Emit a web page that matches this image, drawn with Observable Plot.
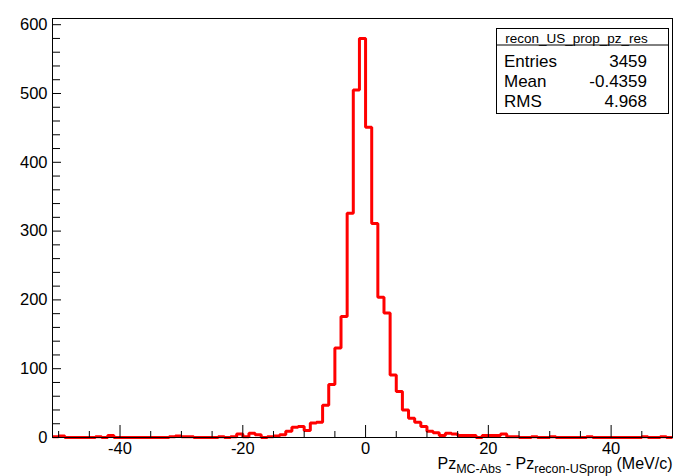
<!DOCTYPE html>
<html>
<head>
<meta charset="utf-8">
<script src="https://cdn.jsdelivr.net/npm/d3@7"></script>
<script src="https://cdn.jsdelivr.net/npm/@observablehq/plot@0.6"></script>
<style>
  html, body { margin: 0; padding: 0; background: #fff; }
  #chart { width: 675px; height: 476px; }
  svg { display: block; }
</style>
</head>
<body>
<div id="chart"></div>
<script>
// recon_US_prop_pz_res : Pz residual histogram, 1 MeV/c bins starting at -51
const histName = "recon_US_prop_pz_res";
const binLow = -51;
const binWidth = 1;
const counts = [
  1, 2, 0, 0, 0, 0, 0, 1, 0, 3,             // -51 .. -42
  0, 0, 0, 0, 0, 0, 0, 0, 0, 1,             // -41 .. -32
  2, 1, 1, 0, 0, 0, 0, 1, 0, 1,             // -31 .. -22
  5, 1, 6, 4, 0, 1, 2, 4, 9, 15,            // -21 .. -12
  16, 10, 21, 22, 47, 77, 130, 176, 326, 505, // -11 .. -2
  580, 451, 311, 204, 181, 91, 67, 40, 28, 22, // -1 .. 8
  16, 9, 7, 3, 6, 5, 3, 3, 3, 0,            // 9 .. 18
  3, 3, 3, 5, 1, 1, 0, 0, 1, 0,             // 19 .. 28
  0, 1, 0, 0, 0, 0, 0, 1, 0, 0,             // 29 .. 38
  0, 0, 0, 0, 0, 0, 1, 0, 0, 1,             // 39 .. 48
  0                                          // 49
];

const xTickLabels = [-40, -20, 0, 20, 40];
const yTickLabels = [0, 100, 200, 300, 400, 500, 600];
const statsLabels = ["Entries", "Mean", "RMS"];
const statsValues = ["3459", "-0.4359", "4.968"];

// Bin edges for the step outline (last bin closed at its upper edge)
const edges = counts.map((c, i) => ({x: binLow + i * binWidth, y: c}));
edges.push({x: binLow + counts.length * binWidth, y: counts[counts.length - 1]});

const W = 675, H = 476;
const mL = 52, mR = 3, mT = 18, mB = 39;
const frameW = W - mL - mR;
const frameH = H - mT - mB;
const font = "'Liberation Sans', Arial, Helvetica, sans-serif";

const xMinor = d3.range(-50, 51, 5).filter(v => v % 20 !== 0);
const yMinor = d3.range(0, 601, 20).filter(v => v % 100 !== 0);

const svg = Plot.plot({
  width: W,
  height: H,
  marginLeft: mL,
  marginRight: mR,
  marginTop: mT,
  marginBottom: mB,
  style: {fontFamily: font, fontSize: "16.5px", color: "#000", background: "#fff"},
  x: {domain: [binLow, binLow + counts.length * binWidth]},
  y: {domain: [0, d3.max(counts) * 1.05]},
  marks: [
    Plot.line(edges, {
      x: "x", y: "y", curve: "step-after",
      stroke: "#ff0000", strokeWidth: 3, strokeLinejoin: "miter", strokeLinecap: "butt"
    }),
    Plot.frame({stroke: "#000", strokeWidth: 1}),
    Plot.tickX(xTickLabels, {x: d => d, stroke: "#000", insetTop: frameH - 12}),
    Plot.tickX(xMinor, {x: d => d, stroke: "#000", insetTop: frameH - 6}),
    Plot.tickY(yTickLabels, {y: d => d, stroke: "#000", insetRight: frameW - 9}),
    Plot.tickY(yMinor, {y: d => d, stroke: "#000", insetRight: frameW - 8}),
    Plot.axisX(xTickLabels, {tickSize: 0, tickPadding: 5, tickFormat: d => String(d), label: null}),
    Plot.axisY(yTickLabels, {tickSize: 0, tickPadding: 5, tickFormat: d => String(d), label: null})
  ]
});
document.getElementById("chart").appendChild(svg);

const root = d3.select(svg);

// X axis title with subscripts
const title = root.append("text")
  .attr("x", W - 2.5)
  .attr("y", 469)
  .attr("text-anchor", "end")
  .attr("font-family", font)
  .attr("font-size", 16)
  .attr("fill", "#000");
title.append("tspan").text("Pz");
title.append("tspan").attr("font-size", 12.5).attr("dy", 3.5).text("MC-Abs");
title.append("tspan").attr("dy", -3.5).text(" - Pz");
title.append("tspan").attr("font-size", 12.5).attr("dy", 3.5).text("recon-USprop");
title.append("tspan").attr("dy", -3.5).text(" (MeV/c)");

// Statistics box
const box = root.append("g").attr("font-family", font).attr("fill", "#000");
const bx = 496.5, by = 28.5, bw = 172, bh = 85, titleH = 16.5;
box.append("rect")
  .attr("x", bx).attr("y", by).attr("width", bw).attr("height", bh)
  .attr("fill", "#fff").attr("stroke", "#000").attr("stroke-width", 1);
box.append("line")
  .attr("x1", bx).attr("x2", bx + bw)
  .attr("y1", by + titleH).attr("y2", by + titleH)
  .attr("stroke", "#000").attr("stroke-width", 1);
box.append("text")
  .attr("x", bx + bw / 2 - 6)
  .attr("y", by + 14)
  .attr("text-anchor", "middle")
  .attr("font-size", 13.5)
  .text(histName);
statsLabels.forEach((lab, i) => {
  const yb = 66.7 + i * 20.3;
  box.append("text").attr("x", 504).attr("y", yb).attr("font-size", 17)
    .attr("text-anchor", "start").text(lab);
  box.append("text").attr("x", 647).attr("y", yb).attr("font-size", 17)
    .attr("text-anchor", "end").text(statsValues[i]);
});
</script>
</body>
</html>
